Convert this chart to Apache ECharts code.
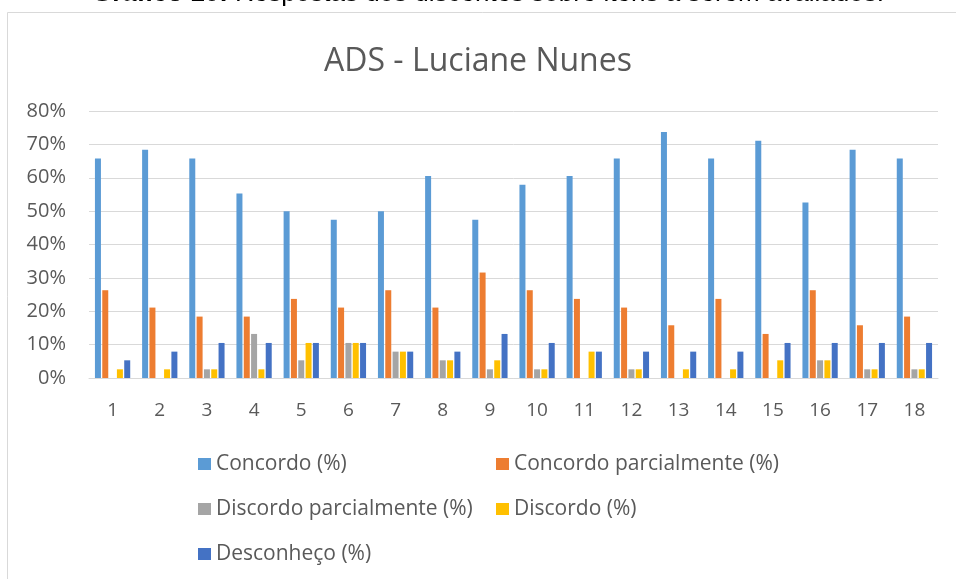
<!DOCTYPE html>
<html>
<head>
<meta charset="utf-8">
<title>ADS - Luciane Nunes</title>
<script src="https://cdn.jsdelivr.net/npm/echarts@6/dist/echarts.min.js"></script>
<style>
  html, body { margin: 0; padding: 0; background: #fff; }
  #chart { width: 956px; height: 579px; }
</style>
</head>
<body>
<div id="chart"></div>
<script>
const categories = ['1', '2', '3', '4', '5', '6', '7', '8', '9', '10', '11', '12', '13', '14', '15', '16', '17', '18']
const seriesNames = ['Concordo (%)', 'Concordo parcialmente (%)', 'Discordo parcialmente (%)', 'Discordo (%)', 'Desconheço (%)']
const concordo = [65.8, 68.4, 65.8, 55.3, 50.0, 47.4, 50.0, 60.5, 47.4, 57.9, 60.5, 65.8, 73.7, 65.8, 71.1, 52.6, 68.4, 65.8]
const concordoParcial = [26.3, 21.1, 18.4, 18.4, 23.7, 21.1, 26.3, 21.1, 31.6, 26.3, 23.7, 21.1, 15.8, 23.7, 13.2, 26.3, 15.8, 18.4]
const discordoParcial = [0, 0, 2.6, 13.2, 5.3, 10.5, 7.9, 5.3, 2.6, 2.6, 0, 2.6, 0, 0, 0, 5.3, 2.6, 2.6]
const discordo = [2.6, 2.6, 2.6, 2.6, 10.5, 10.5, 7.9, 5.3, 5.3, 2.6, 7.9, 2.6, 2.6, 2.6, 5.3, 5.3, 2.6, 2.6]
const desconheco = [5.3, 7.9, 10.5, 10.5, 10.5, 10.5, 7.9, 7.9, 13.2, 10.5, 7.9, 7.9, 7.9, 7.9, 10.5, 10.5, 10.5, 10.5]
const yTicks = [0, 10, 20, 30, 40, 50, 60, 70, 80]

const colors = ['#5B9BD5', '#ED7D31', '#A5A5A5', '#FFC000', '#4472C4']
const allData = [concordo, concordoParcial, discordoParcial, discordo, desconheco]
const textColor = '#595959'
const font = '"Open Sans", "Noto Sans", sans-serif'

// legend laid out in two columns, three rows like the original
const legendPos = [[198, 452], [496, 452], [198, 497], [496, 497], [198, 542]]

const chart = echarts.init(document.getElementById('chart'), null, { renderer: 'canvas' })
chart.setOption({
  animation: false,
  color: colors,
  graphic: [
    {
      type: 'rect',
      shape: { x: 7.5, y: 12.5, width: 1000, height: 600 },
      style: { fill: '#fff', stroke: '#d9d9d9', lineWidth: 1 },
      z: -10
    },
    {
      type: 'text',
      x: 488,
      y: -6,
      style: {
        text: '{b|Gráfico 10:} Respostas dos discentes sobre itens a serem avaliados.',
        align: 'center',
        verticalAlign: 'middle',
        font: '26px "Liberation Sans", Arial, sans-serif',
        fill: '#000',
        rich: {
          b: { fontWeight: 'bold', fontSize: 26, fontFamily: '"Liberation Sans", Arial, sans-serif' }
        }
      }
    }
  ],
  title: {
    text: 'ADS - Luciane Nunes',
    left: 'center',
    top: 41,
    textStyle: { fontFamily: font, fontSize: 32, fontWeight: 'normal', color: textColor }
  },
  legend: seriesNames.map((name, i) => ({
    data: [name],
    left: legendPos[i][0],
    top: legendPos[i][1],
    padding: 0,
    itemWidth: 13,
    itemHeight: 12,
    itemGap: 0,
    icon: 'rect',
    textStyle: { fontFamily: font, fontSize: 21, color: textColor, lineHeight: 24 }
  })),
  grid: { left: 89, right: 18, top: 111, bottom: 201 },
  xAxis: {
    type: 'category',
    data: categories,
    axisTick: { show: false },
    axisLine: { lineStyle: { color: '#d9d9d9', width: 1 } },
    axisLabel: { color: textColor, fontFamily: font, fontSize: 19, margin: 23 }
  },
  yAxis: {
    type: 'value',
    min: yTicks[0],
    max: yTicks[yTicks.length - 1],
    interval: 10,
    axisLine: { show: false },
    axisTick: { show: false },
    splitLine: { lineStyle: { color: '#d9d9d9', width: 1 } },
    axisLabel: { color: textColor, fontFamily: font, fontSize: 20, margin: 23, formatter: '{value}%' }
  },
  series: seriesNames.map((name, i) => ({
    name: name,
    type: 'bar',
    data: allData[i],
    barWidth: 6,
    barGap: '22%',
    itemStyle: { color: colors[i] }
  }))
})
</script>
</body>
</html>
